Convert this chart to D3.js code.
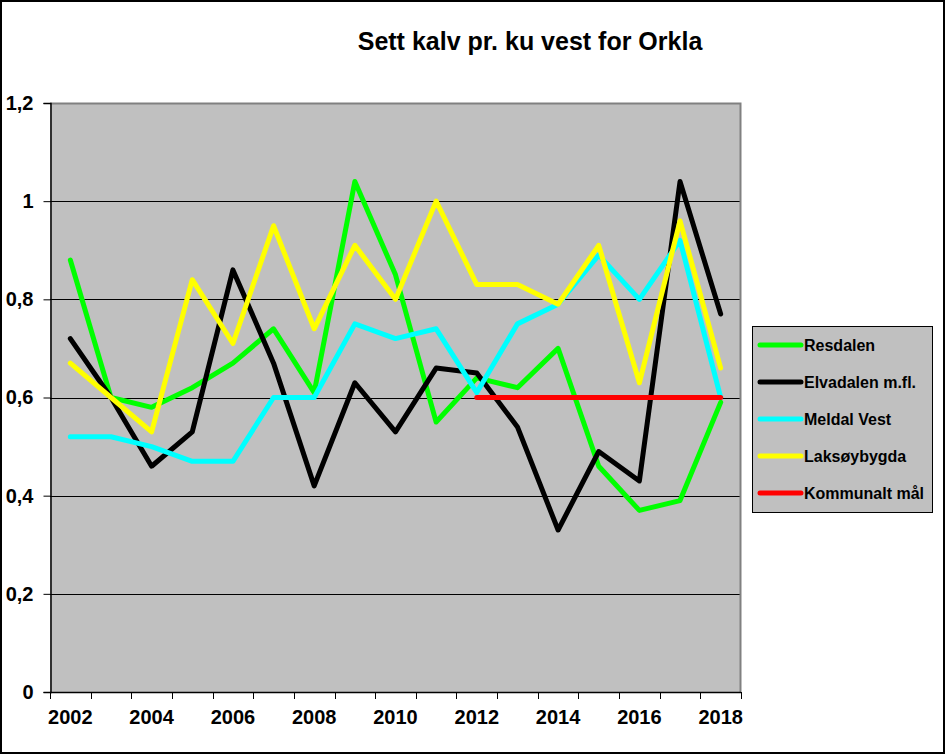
<!DOCTYPE html>
<html>
<head>
<meta charset="utf-8">
<script src="https://cdn.jsdelivr.net/npm/d3@7"></script>
<style>
  html, body { margin: 0; padding: 0; background: #fff; }
  svg { display: block; font-family: "Liberation Sans", Arial, sans-serif; }
</style>
</head>
<body>
<svg id="chart" width="945" height="754"></svg>
<script>
const years = [2002,2003,2004,2005,2006,2007,2008,2009,2010,2011,2012,2013,2014,2015,2016,2017,2018];
const xTickLabels = [2002,2004,2006,2008,2010,2012,2014,2016,2018];
const yTickValues = [0, 0.2, 0.4, 0.6, 0.8, 1.0, 1.2];
const title = "Sett kalv pr. ku vest for Orkla";

const resdalen    = [0.88,0.60,0.58,0.62,0.67,0.74,0.61,1.04,0.85,0.55,0.64,0.62,0.70,0.46,0.37,0.39,0.59];
const elvadalen   = [0.72,0.60,0.46,0.53,0.86,0.67,0.42,0.63,0.53,0.66,0.65,0.54,0.33,0.49,0.43,1.04,0.77];
const meldalVest  = [0.52,0.52,0.50,0.47,0.47,0.60,0.60,0.75,0.72,0.74,0.61,0.75,0.79,0.89,0.80,0.92,0.60];
const laksoybygda = [0.67,0.60,0.53,0.84,0.71,0.95,0.74,0.91,0.80,1.00,0.83,0.83,0.79,0.91,0.63,0.96,0.66];
const kommunalt   = [null,null,null,null,null,null,null,null,null,null,0.60,0.60,0.60,0.60,0.60,0.60,0.60];

const seriesNames  = ["Resdalen","Elvadalen m.fl.","Meldal Vest","Laksøybygda","Kommunalt mål"];
const seriesValues = [resdalen, elvadalen, meldalVest, laksoybygda, kommunalt];
const seriesColors = ["#00ff00","#000000","#00ffff","#ffff00","#ff0000"];

const svg = d3.select("#chart");
const W = 945, H = 754;
const plot = {left: 50, top: 103, right: 741, bottom: 692};

// outer border
svg.append("rect").attr("x", 1).attr("y", 1).attr("width", W - 2).attr("height", H - 2)
  .attr("fill", "#fff").attr("stroke", "#000").attr("stroke-width", 2);

// title
svg.append("text").attr("x", 530).attr("y", 50).attr("text-anchor", "middle")
  .attr("font-size", 25).attr("font-weight", "bold").text(title);

const x = d3.scaleBand().domain(years).range([plot.left, plot.right]).padding(0);
const y = d3.scaleLinear().domain([0, 1.2]).range([plot.bottom, plot.top]);

// plot background
svg.append("rect").attr("x", plot.left).attr("y", plot.top)
  .attr("width", plot.right - plot.left).attr("height", plot.bottom - plot.top)
  .attr("fill", "#c0c0c0");

// gridlines
svg.append("g").selectAll("line").data(yTickValues.filter(v => v > 0 && v < 1.2)).join("line")
  .attr("x1", plot.left).attr("x2", plot.right)
  .attr("y1", d => Math.round(y(d)) + 0.5).attr("y2", d => Math.round(y(d)) + 0.5)
  .attr("stroke", "#000").attr("stroke-width", 1);

// top / right border (gray)
svg.append("path")
  .attr("d", `M${plot.left},${plot.top + 0.5}H${plot.right - 0.5}V${plot.bottom}`)
  .attr("fill", "none").attr("stroke", "#808080").attr("stroke-width", 2);

// y axis
const yAxis = d3.axisLeft(y).tickValues(yTickValues).tickSize(7).tickPadding(10)
  .tickFormat(d => d3.format("~g")(d).replace(".", ","));
const gy = svg.append("g").attr("transform", `translate(${plot.left + 0.5},0)`).call(yAxis);
gy.selectAll("text").attr("font-size", 20).attr("font-weight", "bold")
  .attr("font-family", "Liberation Sans, Arial, sans-serif").attr("fill", "#000");
gy.select(".domain").attr("stroke", "#000").attr("stroke-width", 1.5);

// x axis: ticks at category boundaries
const boundaries = years.map(d => x(d)).concat([plot.right]);
const gx = svg.append("g");
gx.append("line").attr("x1", plot.left).attr("x2", plot.right)
  .attr("y1", plot.bottom + 0.5).attr("y2", plot.bottom + 0.5).attr("stroke", "#000").attr("stroke-width", 1.5);
gx.selectAll("line.tick").data(boundaries).join("line").attr("class", "tick")
  .attr("x1", d => Math.round(d) + 0.5).attr("x2", d => Math.round(d) + 0.5)
  .attr("y1", plot.bottom).attr("y2", plot.bottom + 7).attr("stroke", "#000");
gx.selectAll("text").data(xTickLabels).join("text")
  .attr("x", d => x(d) + x.bandwidth() / 2).attr("y", 724)
  .attr("text-anchor", "middle").attr("font-size", 20).attr("font-weight", "bold").text(d => d);

// lines
const line = d3.line()
  .defined(d => d.v !== null)
  .x(d => x(d.year) + x.bandwidth() / 2)
  .y(d => y(d.v));

const gl = svg.append("g");
seriesValues.forEach((vals, i) => {
  const data = years.map((yr, j) => ({year: yr, v: vals[j]}));
  gl.append("path").datum(data).attr("d", line)
    .attr("fill", "none").attr("stroke", seriesColors[i]).attr("stroke-width", 5)
    .attr("stroke-linejoin", "round").attr("stroke-linecap", "round");
});

// legend
const lg = svg.append("g");
lg.append("rect").attr("x", 752.5).attr("y", 326.5).attr("width", 180).attr("height", 186)
  .attr("fill", "#c0c0c0").attr("stroke", "#000").attr("stroke-width", 1);
const legendY = d3.scalePoint().domain(seriesNames).range([345, 493]);
seriesNames.forEach((name, i) => {
  const yy = legendY(name);
  lg.append("line").attr("x1", 760).attr("x2", 801).attr("y1", yy).attr("y2", yy)
    .attr("stroke", seriesColors[i]).attr("stroke-width", 5).attr("stroke-linecap", "round");
  lg.append("text").attr("x", 804).attr("y", yy + 6).attr("font-size", 16)
    .attr("font-weight", "bold").text(name);
});
</script>
</body>
</html>
